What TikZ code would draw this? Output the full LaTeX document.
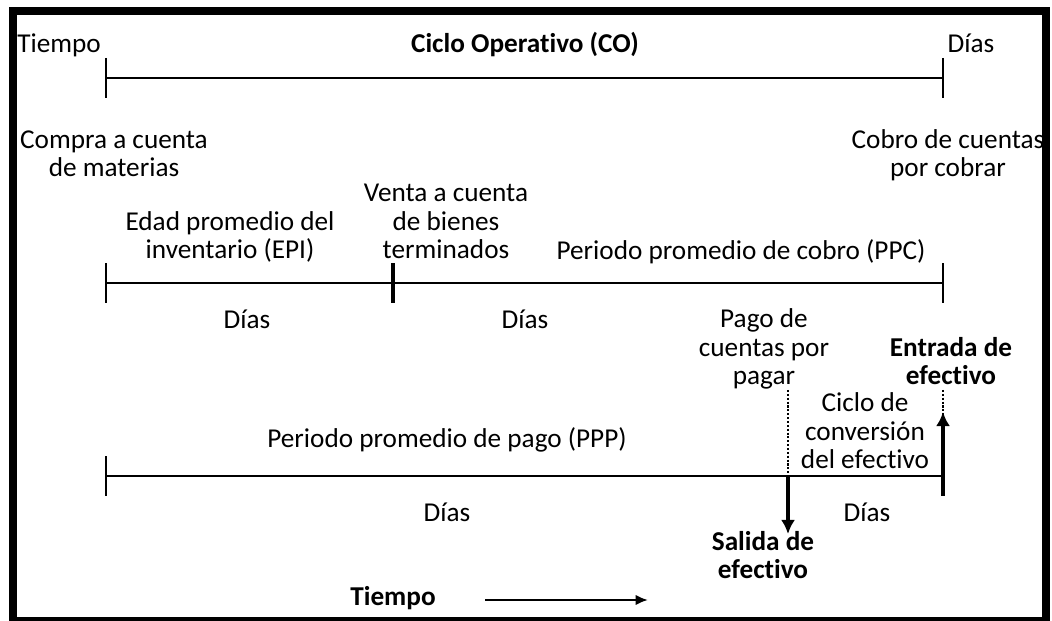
\documentclass[tikz,border=0pt]{standalone}
\usepackage{fontspec}
\setmainfont{Carlito}[Ligatures=NoCommon]
\usetikzlibrary{arrows.meta,positioning,calc}

\begin{document}
\begin{tikzpicture}[x=0.02cm,y=-0.02cm,
  every node/.style={font=\fontsize{15.5}{16.4}\selectfont,inner sep=0pt},
  txt/.style={align=center,anchor=base},
  negrita/.style={font=\fontsize{15.5}{16.4}\selectfont\bfseries},
  linea/.style={line width=1.5pt},
  marca/.style={line width=1.4pt},
  marcagruesa/.style={line width=2.3pt},
  punteado/.style={densely dotted,line width=1.2pt},
  flecha/.style={line width=2.2pt,-{Latex[length=8pt,width=8pt]}}]
\useasboundingbox (0,0) rectangle (1052,621);
\draw[line width=0.16cm] (13,11) rectangle (1046,621);

% Ciclo operativo
\coordinate (A1) at (106,78);
\coordinate (B1) at (943,78);
\draw[linea] (A1) -- (B1);
\draw[marca] ([yshift=0.4cm]A1) -- ([yshift=-0.4cm]A1);
\draw[marca] ([yshift=0.4cm]B1) -- ([yshift=-0.4cm]B1);
\node[txt,anchor=base west] (tiempoA) at (17,53) {Tiempo};
\node[txt,negrita] (co) at (525,53) {Ciclo Operativo (CO)};
\node[txt] (diasA) at (971,53) {Días};
\node[txt] (compra) at (114,177) {Compra a cuenta\\de materias};
\node[txt] (cobro) at (948,177) {Cobro de cuentas\\por cobrar};

% EPI y PPC
\coordinate (A2) at (106,283);
\coordinate (M2) at (393,283);
\coordinate (B2) at (943,283);
\draw[linea] (A2) -- (B2);
\draw[marca] ([yshift=0.4cm]A2) -- ([yshift=-0.4cm]A2);
\draw[marcagruesa] ([yshift=0.4cm]M2) -- ([yshift=-0.4cm]M2);
\draw[marca] ([yshift=0.4cm]B2) -- ([yshift=-0.4cm]B2);
\node[txt] (venta) at (446,259) {Venta a cuenta\\de bienes\\terminados};
\node[txt] (epi) at (230,259) {Edad promedio del\\inventario (EPI)};
\node[txt] (ppc) at (741,260) {Periodo promedio de cobro (PPC)};
\node[txt] (diasB1) at (247,329) {Días};
\node[txt] (diasB2) at (525,329) {Días};

% PPP y ciclo de conversion
\coordinate (A3) at (106,476);
\coordinate (P3) at (788,476);
\coordinate (B3) at (943,476);
\draw[linea] (A3) -- (B3);
\draw[marca] ([yshift=0.4cm]A3) -- ([yshift=-0.4cm]A3);
\draw[marcagruesa] (B3) -- ([yshift=-0.4cm]B3);
\node[txt] (pago) at (764,385) {Pago de\\cuentas por\\pagar};
\node[txt,negrita] (entrada) at (951,385) {Entrada de\\efectivo};
\node[txt] (ciclo) at (865,469) {Ciclo de\\conversión\\del efectivo};
\node[txt] (ppp) at (447,448) {Periodo promedio de pago (PPP)};
\node[txt] (diasC1) at (447,521) {Días};
\node[txt] (diasC2) at (867,521) {Días};
\node[txt,negrita] (salida) at (763,579) {Salida de\\efectivo};

\coordinate (pg) at (788,390);
\coordinate (en) at (943,390);
\coordinate (sal) at (788,534);
\coordinate (ent) at (943,412);
\draw[punteado] (pg) -- (P3);
\draw[punteado] (en) -- (B3);
\draw[flecha] (P3) -- (sal);
\draw[flecha] (B3) -- (ent);

% eje del tiempo
\node[txt,negrita] (tiempoB) at (393,605) {Tiempo};
\coordinate (t0) at (485,600);
\coordinate (t1) at (648,600);
\draw[line width=1.4pt,-{Latex[length=7pt,width=6pt]}] (t0) -- (t1);
\end{tikzpicture}
\end{document}
